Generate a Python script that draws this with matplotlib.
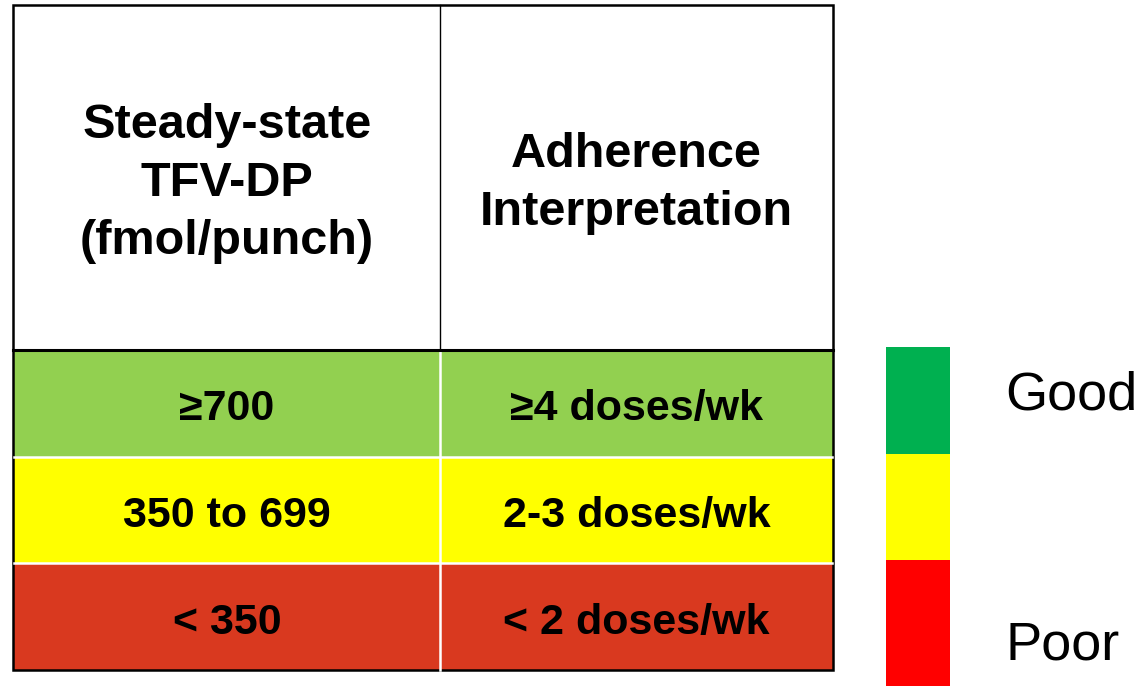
import matplotlib
matplotlib.use("Agg")
import matplotlib.pyplot as plt
from matplotlib.patches import Rectangle

# ---- data ----
headers = ["Steady-state\nTFV-DP\n(fmol/punch)", "Adherence\nInterpretation"]
concentration = ["\u2265700", "350 to 699", "< 350"]
interpretation = ["\u22654 doses/wk", "2-3 doses/wk", "< 2 doses/wk"]
row_colors = ["#92D050", "#FFFF00", "#D9391F"]
legend_colors = ["#00B050", "#FFFF00", "#FF0000"]
legend_labels = ["Good", "Poor"]

# ---- layout (pixel space) ----
W, H = 1140, 686
fig = plt.figure(figsize=(W / 100, H / 100), dpi=100)
ax = fig.add_axes([0, 0, 1, 1])
ax.set_xlim(0, W)
ax.set_ylim(H, 0)
ax.axis("off")

tx0, tx1, tmid = 13, 833, 440
ty0, hdr_bot, ty1 = 5, 350, 670
row_h = (ty1 - hdr_bot) / len(concentration)
font = "Liberation Sans"

# header
ax.add_patch(Rectangle((tx0, ty0), tx1 - tx0, hdr_bot - ty0, facecolor="white", edgecolor="none"))
col_centers = [(tx0 + tmid) / 2 + 0.5, (tmid + tx1) / 2]
for cx, h in zip(col_centers, headers):
    ax.text(cx, (ty0 + hdr_bot) / 2 + 6, h, ha="center", va="center", fontsize=35,
            fontweight="bold", family=font, linespacing=1.38)
ax.plot([tmid, tmid], [ty0, hdr_bot], color="black", lw=1.0)

# body rows
for i, (c, t, col) in enumerate(zip(concentration, interpretation, row_colors)):
    y = hdr_bot + i * row_h
    ax.add_patch(Rectangle((tx0, y), tx1 - tx0, row_h, facecolor=col, edgecolor="none"))
    ax.text(col_centers[0], y + row_h / 2 + 6, c, ha="center", va="center", fontsize=31,
            fontweight="bold", family=font)
    ax.text(col_centers[1], y + row_h / 2 + 6, t, ha="center", va="center", fontsize=31,
            fontweight="bold", family=font)
    if i > 0:
        ax.plot([tx0 + 1, tx1 - 1], [y, y], color="white", lw=1.8)
ax.plot([tmid, tmid], [hdr_bot, ty1], color="white", lw=1.8)

# outer borders
ax.plot([tx0, tx1], [hdr_bot, hdr_bot], color="black", lw=2.2)
ax.add_patch(Rectangle((tx0, ty0), tx1 - tx0, ty1 - ty0, facecolor="none", edgecolor="black", lw=1.8))

# legend bar
lx0, lx1 = 886, 950
ly_bounds = [347, 454, 560, 686]
for j, col in enumerate(legend_colors):
    ax.add_patch(Rectangle((lx0, ly_bounds[j]), lx1 - lx0, ly_bounds[j + 1] - ly_bounds[j],
                           facecolor=col, edgecolor="none"))
ax.text(1005, 410, legend_labels[0], ha="left", va="baseline", fontsize=39, family=font)
ax.text(1006, 660, legend_labels[1], ha="left", va="baseline", fontsize=39, family=font)

fig.savefig("out.png", dpi=100)
